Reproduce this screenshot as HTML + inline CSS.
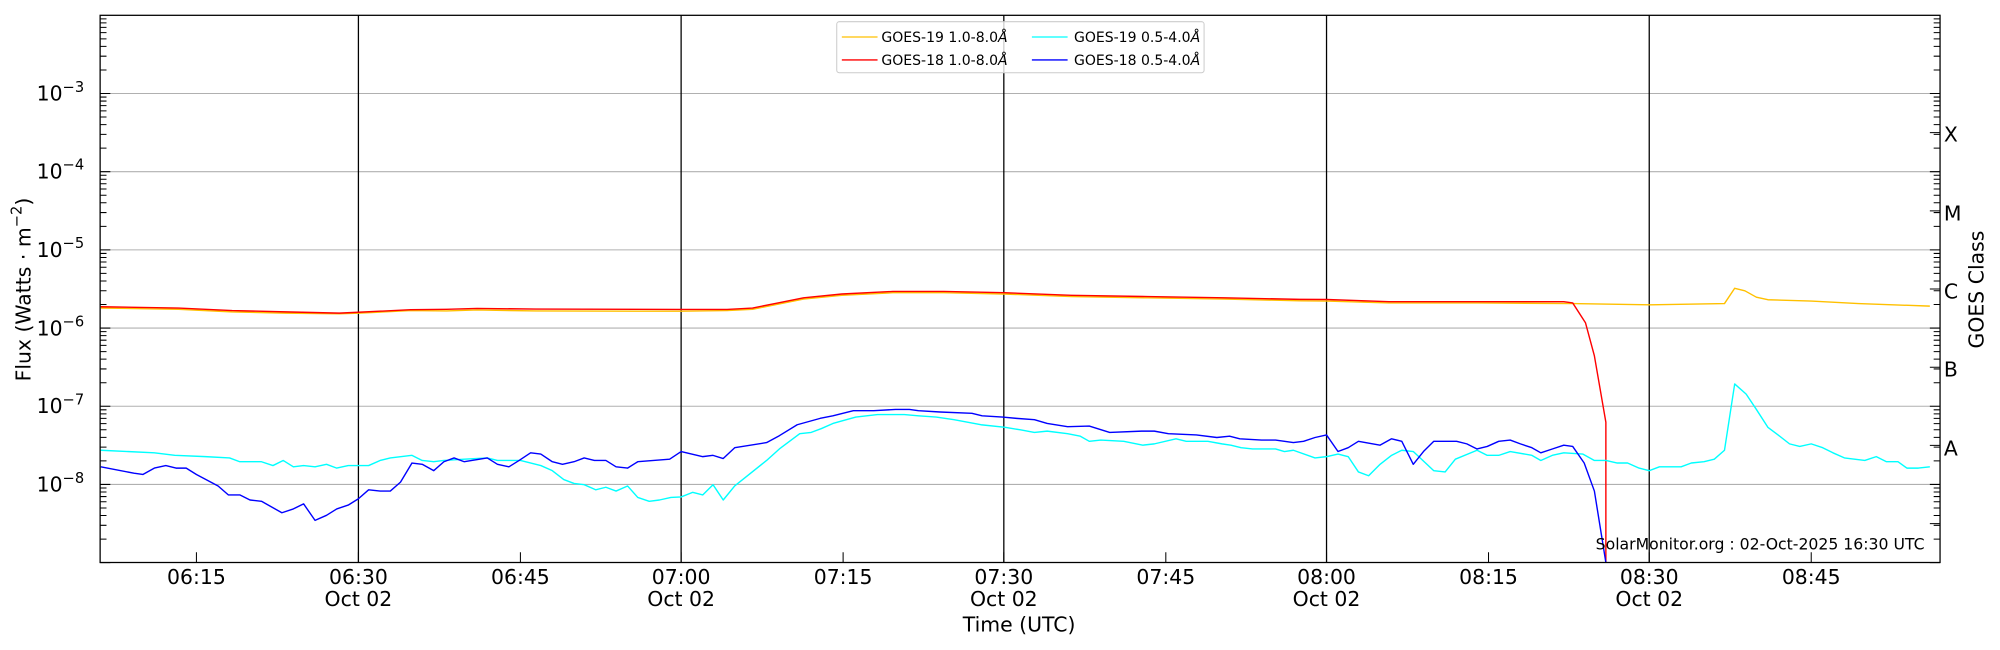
<!DOCTYPE html>
<html><head><meta charset="utf-8"><style>
html,body{margin:0;padding:0;background:#fff;width:2000px;height:650px;overflow:hidden}
svg{display:block}
text{font-family:"DejaVu Sans","Liberation Sans",sans-serif;fill:#000}
</style></head><body>
<svg id="s" width="2000" height="650" viewBox="0 0 1568 509.6" preserveAspectRatio="none" xmlns="http://www.w3.org/2000/svg">
<g stroke="#b0b0b0" stroke-width="0.8">
<line x1="78.5" x2="1521" y1="73.3" y2="73.3"/><line x1="78.5" x2="1521" y1="134.6" y2="134.6"/>
<line x1="78.5" x2="1521" y1="195.9" y2="195.9"/><line x1="78.5" x2="1521" y1="257.2" y2="257.2"/>
<line x1="78.5" x2="1521" y1="318.5" y2="318.5"/><line x1="78.5" x2="1521" y1="379.8" y2="379.8"/>
</g>
<g stroke="#000" stroke-width="1">
<line x1="281" x2="281" y1="12" y2="441"/><line x1="534" x2="534" y1="12" y2="441"/>
<line x1="787" x2="787" y1="12" y2="441"/><line x1="1040" x2="1040" y1="12" y2="441"/>
<line x1="1293" x2="1293" y1="12" y2="441"/>
</g>
<path id="ticks" stroke="#000" stroke-width="0.8" fill="none" d=""/>
<g fill="none" stroke-width="1.1" stroke-linejoin="round">
<polyline stroke="#ffc000" points="79,241.5 140,242.5 182,244.5 224,245.5 266,246 281,245.5 322,243.5 350,243.8 374,243 420,243.8 534,244 570,243.5 590,242.5 610,238.5 630,234.5 660,231.5 700,229.5 740,229.5 787,230.5 840,232.5 900,233.5 960,234.5 1019,235.8 1040,236 1089,237.5 1159,237.5 1233,238 1293,239 1352,238 1360,226 1368,228 1377,233 1386,235 1420,236 1457,238 1513,240"/>
<polyline stroke="#ff0000" points="79,240.5 140,241.5 182,243.5 224,244.5 266,245.5 281,244.8 322,242.8 350,242.5 374,241.8 420,242.3 534,242.6 570,242.6 590,241.5 610,237.5 630,233.5 660,230.5 700,228.5 740,228.5 787,229.5 840,231.5 900,232.5 960,233.5 1019,234.7 1040,234.8 1089,236.5 1159,236.5 1226,236.5 1233,237.5 1243,253 1250,279 1259,331 1259,441"/>
<polyline stroke="#00ffff" points="79,353 121,355 137,357 161,358 180,359 188,362 205,362 214,365 222,361 230,366 238,365 247,366 256,364 264,367 273,365 289,365 298,361 306,359 323,357 331,361 340,362 348,361 364,360 382,359 390,361 408,361 424,365 433,369 442,376 450,379 458,380 467,384 475,382 483,385 492,381 500,390 509,393 517,392 526,390 534,389.6 543,386 551,388 559,380 567,392 576,381 601,361 611,352 627,340 636,339 644,336 653,332 660,330 671,327 688,325 709,325 720,326 734,327 748,329 769,333 788,335 800,337 811,339 821,338 837,340 847,342 854,346 863,345 881,346 896,349 905,348 922,344 930,346 947,346 958,348 965,349 973,351 982,352 1000,352 1007,354 1014,353 1031,359 1040,358 1049,356 1057,358 1065,370 1073,373 1082,364 1091,357 1099,353 1108,354 1124,369 1133,370 1141,360 1158,353 1166,357 1175,357 1184,354 1201,357 1208,361 1217,357 1226,355 1241,356 1250,361 1259,361 1268,363 1276,363 1285,367 1293,369 1301,366 1318,366 1326,363 1336,362 1344,360 1352,353 1360,301 1369,309 1377,321 1386,335 1394,341 1403,348 1411,350 1420,348 1429,351 1437,355 1446,359 1462,361 1471,358 1479,362 1488,362 1495,367 1504,367 1513,366"/>
<polyline stroke="#0000ff" points="79,366 105,371 112,372 121,367 130,365 138,367 146,367 154,372 171,381 179,388 188,388 196,392 205,393 221,402 230,399 238,395 247,408 256,404 264,399 273,396 281,391 289,384 298,385 306,385 314,378 323,363 331,364 340,369 348,362 356,359 364,362 382,359 390,364 399,366 407,361 416,355 424,356 433,362 441,364 450,362 458,359 466,361 475,361 483,366 492,367 500,362 525,360 534,354 551,358 559,357 567,359.5 576,351 601,347 611,341.6 625,333 643,328 653,326 669,322 685,322 702,321 713,321 720,322 737,323 762,324 770,326 786,327 797,328 811,329 821,332 837,334.5 854,334 870,339 895,338 905,338 916,340 938,341 954,343 964,342 972,344 989,345 1000,345 1014,347 1022,346 1031,343 1040,341 1049,354 1057,351 1065,346 1082,349 1091,344 1099,346 1108,364 1116,354 1124,346 1142,346 1150,348 1158,352 1166,350 1175,346 1184,345 1192,348 1201,351 1208,355 1217,352 1226,349 1233,350 1242,363 1250,385 1259,441"/>
</g>
<rect x="78.5" y="12" width="1442.5" height="429" fill="none" stroke="#000" stroke-width="1"/>
<g>
<rect x="656" y="17" width="288" height="40" rx="2" fill="#fff" fill-opacity="0.8" stroke="#ccc" stroke-width="0.8"/>
<line x1="660" x2="688" y1="29" y2="29" stroke="#ffc000" stroke-width="1"/>
<line x1="660" x2="688" y1="47" y2="47" stroke="#ff0000" stroke-width="1"/>
<line x1="809" x2="837" y1="29" y2="29" stroke="#00ffff" stroke-width="1"/>
<line x1="809" x2="837" y1="47" y2="47" stroke="#0000ff" stroke-width="1"/>
<text x="691" y="33" font-size="11">GOES-19 1.0-8.0<tspan font-style="italic">Å</tspan></text>
<text x="691" y="51" font-size="11">GOES-18 1.0-8.0<tspan font-style="italic">Å</tspan></text>
<text x="842" y="33" font-size="11">GOES-19 0.5-4.0<tspan font-style="italic">Å</tspan></text>
<text x="842" y="51" font-size="11">GOES-18 0.5-4.0<tspan font-style="italic">Å</tspan></text>
</g>
<g font-size="16" text-anchor="end">
<text x="66" y="79">10<tspan font-size="11.5" dy="-7">−3</tspan></text>
<text x="66" y="140">10<tspan font-size="11.5" dy="-7">−4</tspan></text>
<text x="66" y="201.5">10<tspan font-size="11.5" dy="-7">−5</tspan></text>
<text x="66" y="263">10<tspan font-size="11.5" dy="-7">−6</tspan></text>
<text x="66" y="324">10<tspan font-size="11.5" dy="-7">−7</tspan></text>
<text x="66" y="385.5">10<tspan font-size="11.5" dy="-7">−8</tspan></text>
</g>
<g font-size="16" text-anchor="middle">
<text x="154" y="458">06:15</text>
<text x="281" y="458">06:30</text><text x="281" y="475">Oct 02</text>
<text x="408" y="458">06:45</text>
<text x="534" y="458">07:00</text><text x="534" y="475">Oct 02</text>
<text x="661" y="458">07:15</text>
<text x="787" y="458">07:30</text><text x="787" y="475">Oct 02</text>
<text x="914" y="458">07:45</text>
<text x="1040" y="458">08:00</text><text x="1040" y="475">Oct 02</text>
<text x="1167" y="458">08:15</text>
<text x="1293" y="458">08:30</text><text x="1293" y="475">Oct 02</text>
<text x="1420" y="458">08:45</text>
<text x="799" y="495">Time (UTC)</text>
<text transform="translate(24,227) rotate(-90)">Flux (Watts · m<tspan font-size="11.5" dy="-7">−2</tspan><tspan dy="7">)</tspan></text>
<text transform="translate(1555,227) rotate(-90)">GOES Class</text>
</g>
<g font-size="16">
<text x="1524" y="111">X</text><text x="1524" y="173">M</text><text x="1524" y="234">C</text>
<text x="1524" y="295">B</text><text x="1524" y="357">A</text>
</g>
<text x="1251" y="431" font-size="12.3">SolarMonitor.org : 02-Oct-2025 16:30 UTC</text>
</svg>
<script>
(function(){
var d="",L=78.5,R=1521,T=12,D=61.3;
for(var e=-2;e>-9;e--){
 for(var k=1;k<10;k++){
  var y=T+(-2-e)*D+D*(1-Math.log10(k));
  if(k==1){y=T+(-2-e+1)*D;}
  var len=(k==1)?8:5;
  if(y<T-0.1||y>441.1)continue;
  d+="M"+L+" "+y.toFixed(2)+"h"+len+"M"+R+" "+y.toFixed(2)+"h-"+len;
 }
}
for(var e2=0;e2<6;e2++){d+="M"+R+" "+(104+e2*D).toFixed(2)+"h-8";}
var xs=[154,281,408,534,661,787,914,1040,1167,1293,1420];
for(var i=0;i<xs.length;i++){d+="M"+xs[i]+" 441v-8";}
document.getElementById("ticks").setAttribute("d",d);
})();
</script>
</body></html>
